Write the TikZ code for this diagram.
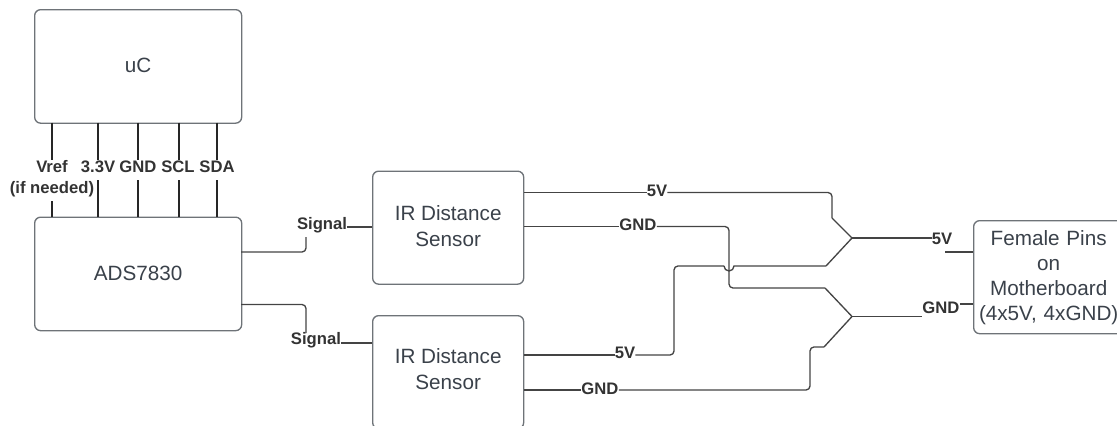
\documentclass[tikz,border=0pt]{standalone}
\usepackage{fontspec}
\setmainfont{Liberation Sans}
\definecolor{boxc}{HTML}{6E7378}
\definecolor{txtc}{HTML}{3A414A}
\definecolor{lab}{HTML}{333333}
\definecolor{wire}{HTML}{444444}
\tikzset{
  x=0.75pt,y=-0.75pt,
  blockbox/.style={draw=boxc,line width=1pt,rounded corners=4.5pt,fill=white,anchor=north west,inner sep=0pt,align=center,text=txtc,font=\fontsize{15.5pt}{19.5pt}\selectfont},
  wirelabel/.style={inner sep=0pt,text=lab,font=\bfseries\fontsize{12.5pt}{15.7pt}\selectfont,align=center},
  pin/.style={draw=black!85,line width=1.1pt},
  wireline/.style={draw=wire,line width=1pt,rounded corners=3pt},
}
\begin{document}
\begin{tikzpicture}
\useasboundingbox (0,0) rectangle (1117,425);
\path[clip] (0,0) rectangle (1117,425);
\node[blockbox,minimum width=207pt*0.75,minimum height=113.5pt*0.75] (uc) at (34,9) {uC\rule[-1.5pt]{0pt}{0pt}};
\node[blockbox,minimum width=207pt*0.75,minimum height=113.5pt*0.75] (ads) at (34,216.5) {ADS7830\rule[-1.5pt]{0pt}{0pt}};
\node[blockbox,minimum width=151pt*0.75,minimum height=113pt*0.75] (ir1) at (372,170.5) {IR Distance\\Sensor\rule[-3pt]{0pt}{0pt}};
\node[blockbox,minimum width=151pt*0.75,minimum height=113pt*0.75] (ir2) at (372,315) {IR Distance\\Sensor\rule[-4.5pt]{0pt}{0pt}};
\node[blockbox,minimum width=150pt*0.75,minimum height=113pt*0.75,text width=142pt*0.75,font=\fontsize{15.5pt}{18.75pt}\selectfont] (fem) at (973,220) {Female Pins\\on\\Motherboard\\(4x5V, 4xGND)};
% top bus labels
\node[wirelabel] (lv) at (52,178.5) {Vref\\(if needed)};
\node[wirelabel] (l33) at (98,167) {3.3V};
\node[wirelabel] (lg) at (138,167) {GND};
\node[wirelabel] (lc) at (178,167) {SCL};
\node[wirelabel] (ld) at (217,167) {SDA};
\coordinate (a1) at (52,122.5); \coordinate (a2) at (52,160); \coordinate (a3) at (52,201); \coordinate (a4) at (52,216.5);
\draw[pin] (a1) -- (a2); \draw[pin] (a3) -- (a4);
\foreach \x/\n in {98/b,138/c,179/d,217/e}{
  \coordinate (\n1) at (\x,122.5); \coordinate (\n2) at (\x,160); \coordinate (\n3) at (\x,180); \coordinate (\n4) at (\x,216.5);
  \draw[pin] (\n1) -- (\n2); \draw[pin] (\n3) -- (\n4);
}
% signals
\node[wirelabel] (s1) at (322,225) {Signal};
\node[wirelabel] (s2) at (316,340) {Signal};
\coordinate (s1a) at (241,252); \coordinate (s1b) at (306,252); \coordinate (s1c) at (306,237);
\coordinate (s2a) at (241,304.5); \coordinate (s2b) at (306,304.5); \coordinate (s2c) at (306,333);
\draw[wireline] (s1a) -- (s1b) -- (s1c);
\draw[wireline] (s2a) -- (s2b) -- (s2c);
\draw[wireline] (s1.east|-0,227) -- (ir1.west|-0,227);
\draw[wireline] (s2.east|-0,343) -- (ir2.west|-0,343);
% power labels
\node[wirelabel] (p5a) at (657,190.5) {5V};
\node[wirelabel] (pga) at (638,225) {GND};
\node[wirelabel] (p5b) at (625,353) {5V};
\node[wirelabel] (pgb) at (600,389) {GND};
\node[wirelabel] (p5c) at (942,239) {5V};
\node[wirelabel] (pgc) at (941,308) {GND};
% joints
\coordinate (j1) at (852,238); \coordinate (j2) at (852,316.5);
\draw[wireline] (ir1.east|-0,192.5) -- (p5a.west|-0,192.5);
\draw[wireline] (p5a.east|-0,192.5) -- (832,192.5) -- (832,218);
\draw[wireline,rounded corners=0pt] (832,218) -- (j1) -- (826,266);
\draw[wireline] (j1) -- (p5c.west|-j1);
\draw[wireline] (945,252) -- (fem.west|-0,252);
\draw[wireline] (ir1.east|-0,226.5) -- (pga.west|-0,226.5);
\draw[wireline] (pga.east|-0,226.5) -- (729,226.5) -- (729,288) -- (825,288);
\draw[wireline,rounded corners=0pt] (825,288) -- (j2) -- (824,347);
\draw[wireline] (j2) -- (pgc.west|-j2);
\draw[wireline] (pgc.east|-0,304) -- (fem.west|-0,304);
\draw[wireline] (ir2.east|-0,355) -- (p5b.west|-0,355);
\draw[wireline] (p5b.east|-0,355) -- (674,355) -- (674,266) -- (724,266);
\draw[wireline,rounded corners=0pt] (724,266) arc[start angle=180,end angle=0,radius=5] -- (826,266);
\draw[wireline] (ir2.east|-0,390) -- (pgb.west|-0,390);
\draw[wireline] (pgb.east|-0,390) -- (810,390) -- (810,347) -- (824,347);
\end{tikzpicture}
\end{document}
